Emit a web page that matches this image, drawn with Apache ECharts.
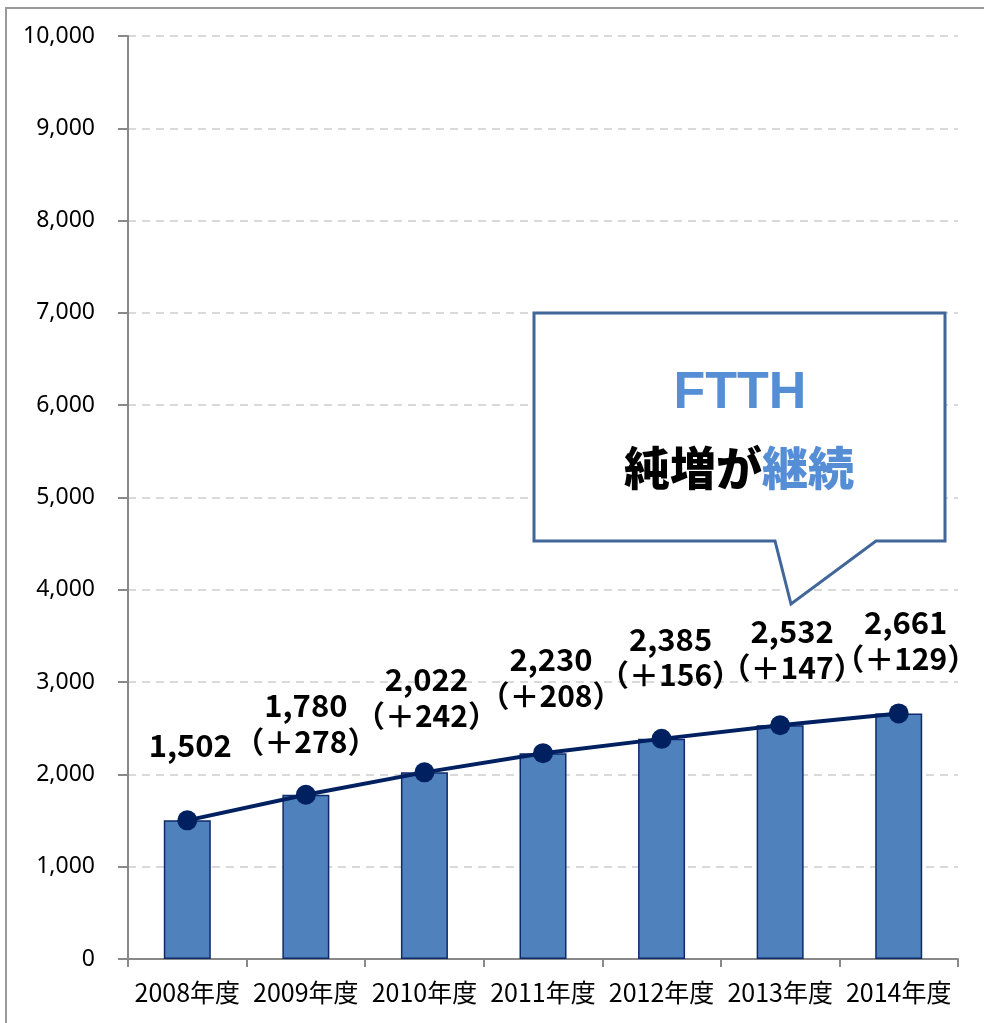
<!DOCTYPE html>
<html>
<head>
<meta charset="utf-8">
<script src="https://cdn.jsdelivr.net/npm/echarts@6/dist/echarts.min.js"></script>
<style>
  html, body { margin: 0; padding: 0; background: #fff; }
  #chart { width: 984px; height: 1023px; }
</style>
</head>
<body>
<div id="chart"></div>
<script>
// FTTH subscribers (10k), fiscal years
const years = ['2008年度', '2009年度', '2010年度', '2011年度', '2012年度', '2013年度', '2014年度'];
const subscribers = [1502, 1780, 2022, 2230, 2385, 2532, 2661];
const netAdds = [null, 278, 242, 208, 156, 147, 129];
const yTicks = { min: 0, max: 10000, step: 1000 };

// manual label nudges (Excel-style hand placed labels)
const labelOffsets = [[3, -42], [0, -20], [2, -24], [8, -25], [9, -31], [12, -25], [7, -22]];

const fmt = v => v.toLocaleString('en-US');
const jp = "'Noto Sans CJK JP', sans-serif";

const chart = echarts.init(document.getElementById('chart'), null, { renderer: 'canvas' });

const lineData = subscribers.map((v, i) => ({
  value: v,
  label: { offset: labelOffsets[i] }
}));

const option = {
  backgroundColor: '#ffffff',
  animation: false,
  grid: { left: 128, right: 26, top: 36, bottom: 64 },
  xAxis: {
    type: 'category',
    data: years,
    axisLine: { lineStyle: { color: '#898989', width: 2 } },
    axisTick: { show: true, length: 8, lineStyle: { color: '#898989', width: 2 } },
    axisLabel: { color: '#000', fontSize: 25, fontFamily: jp, margin: 21, interval: 0 }
  },
  yAxis: {
    type: 'value',
    min: yTicks.min,
    max: yTicks.max,
    interval: yTicks.step,
    axisLine: { show: true, lineStyle: { color: '#898989', width: 2 } },
    axisTick: { show: true, length: 10, lineStyle: { color: '#898989', width: 2 } },
    axisLabel: {
      color: '#000', fontSize: 23, fontFamily: "'Noto Sans', sans-serif", margin: 33,
      formatter: v => fmt(v)
    },
    splitLine: { lineStyle: { color: '#d9d9d9', width: 2, type: [8, 6] } }
  },
  series: [
    {
      type: 'bar',
      data: subscribers,
      barWidth: 47,
      itemStyle: { color: '#4f81bd', borderColor: '#0e2a6a', borderWidth: 1.5 },
      z: 2
    },
    {
      type: 'line',
      data: lineData,
      symbol: 'circle',
      symbolSize: 20,
      lineStyle: { color: '#002060', width: 4 },
      itemStyle: { color: '#002060' },
      z: 3,
      label: {
        show: true,
        position: 'top',
        distance: 5,
        formatter: p => {
          const i = p.dataIndex;
          const top = '{v|' + fmt(subscribers[i]) + '}';
          return netAdds[i] == null ? top : top + '\n{d|（＋' + netAdds[i] + '）}';
        },
        rich: {
          v: { fontSize: 31, fontWeight: 'bold', fontFamily: jp, color: '#000', lineHeight: 36 },
          d: { fontSize: 30, fontWeight: 'bold', fontFamily: jp, color: '#000', lineHeight: 36 }
        }
      }
    }
  ],
  graphic: [
    {
      type: 'rect',
      shape: { x: 6, y: 8, width: 1000, height: 1040 },
      style: { fill: 'none', stroke: '#9a9a9a', lineWidth: 2 },
      z: 0, silent: true
    },
    {
      type: 'polygon',
      shape: { points: [[534, 313], [945, 313], [945, 541], [876, 541], [791, 604], [775, 541], [534, 541]] },
      style: { fill: '#ffffff', stroke: '#41679a', lineWidth: 3, lineJoin: 'miter' },
      z: 10
    },
    {
      type: 'text',
      x: 740, y: 394,
      style: {
        text: 'FTTH', fill: '#558ed5', font: "bold 52px 'Liberation Sans', Arial, sans-serif",
        align: 'center', verticalAlign: 'middle'
      },
      z: 11
    },
    {
      type: 'text',
      x: 739, y: 468,
      style: {
        text: '{k|純増が}{b|継続}',
        align: 'center', verticalAlign: 'middle',
        rich: {
          k: { fontSize: 46, fontWeight: 900, fontFamily: jp, fill: '#000000' },
          b: { fontSize: 46, fontWeight: 900, fontFamily: jp, fill: '#558ed5' }
        }
      },
      z: 11
    }
  ]
};

chart.setOption(option);
</script>
</body>
</html>
